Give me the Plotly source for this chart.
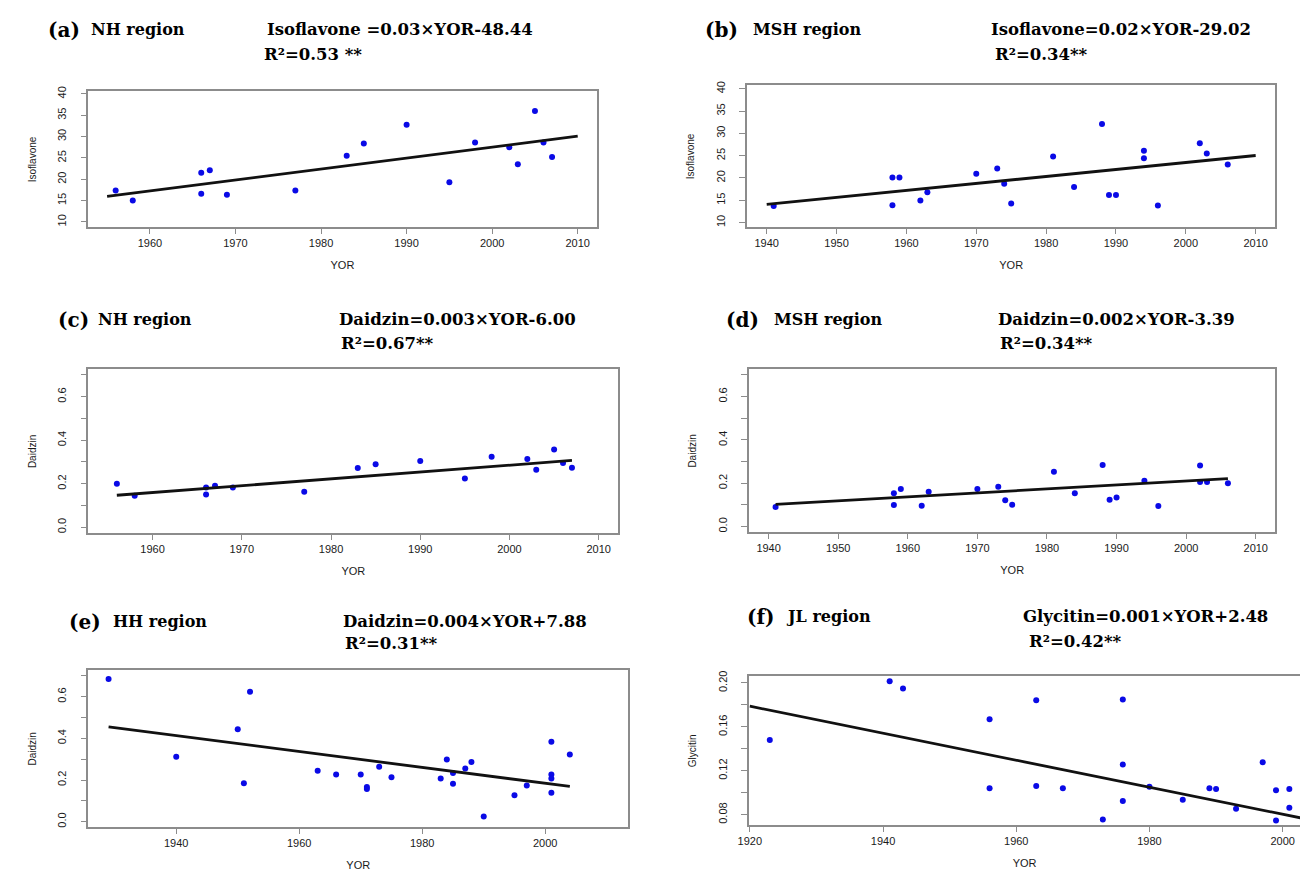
import plotly.graph_objects as go

W, H = 1300, 873

# ---------------- data ----------------
# (a) NH region, Isoflavone
a_year = [1956, 1958, 1966, 1966, 1967, 1969, 1977, 1983, 1985, 1990, 1995, 1998, 2002, 2003, 2005, 2006, 2007]
a_val = [17.35, 15.0, 21.5, 16.6, 22.1, 16.4, 17.35, 25.5, 28.4, 32.8, 19.3, 28.6, 27.5, 23.5, 36.0, 28.6, 25.2]
a_fit_year = [1955, 2010]
a_fit_val = [16.0, 30.1]

# (b) MSH region, Isoflavone
b_year = [1941, 1958, 1958, 1959, 1962, 1963, 1970, 1973, 1974, 1975, 1981, 1984, 1988, 1989, 1990,
          1994, 1994, 1996, 2002, 2003, 2006]
b_val = [13.7, 20.1, 13.9, 20.1, 14.95, 16.8, 20.95, 22.1, 18.7, 14.3, 24.8, 18.0, 32.1, 16.2, 16.2,
         26.1, 24.4, 13.8, 27.8, 25.5, 23.0]
b_fit_year = [1940, 2010]
b_fit_val = [14.07, 25.04]

# (c) NH region, Daidzin
c_year = [1956, 1958, 1966, 1966, 1967, 1969, 1977, 1983, 1985, 1990, 1995, 1998, 2002, 2003, 2005, 2006, 2007]
c_val = [0.200, 0.145, 0.183, 0.151, 0.191, 0.183, 0.163, 0.272, 0.290, 0.305, 0.224, 0.324, 0.314, 0.264,
         0.357, 0.295, 0.273]
c_fit_year = [1956, 2007]
c_fit_val = [0.147, 0.307]

# (d) MSH region, Daidzin
d_year = [1941, 1958, 1958, 1959, 1962, 1963, 1970, 1973, 1974, 1975, 1981, 1984, 1988, 1989, 1990,
          1994, 1996, 2002, 2002, 2003, 2006]
d_val = [0.090, 0.153, 0.099, 0.173, 0.096, 0.160, 0.173, 0.183, 0.121, 0.101, 0.253, 0.153, 0.284, 0.124,
         0.134, 0.211, 0.095, 0.282, 0.206, 0.206, 0.200]
d_fit_year = [1941, 2006]
d_fit_val = [0.102, 0.221]

# (e) HH region, Daidzin
e_year = [1929, 1940, 1950, 1951, 1952, 1963, 1966, 1970, 1971, 1971, 1973, 1975, 1983, 1984, 1985, 1985,
          1987, 1988, 1990, 1995, 1997, 2001, 2001, 2001, 2001, 2004]
e_val = [0.685, 0.312, 0.443, 0.185, 0.624, 0.245, 0.226, 0.226, 0.166, 0.157, 0.264, 0.213, 0.207, 0.299,
         0.234, 0.182, 0.255, 0.287, 0.025, 0.127, 0.174, 0.384, 0.226, 0.207, 0.139, 0.322]
e_fit_year = [1929, 2004]
e_fit_val = [0.455, 0.169]

# (f) JL region, Glycitin
f_year = [1923, 1941, 1943, 1956, 1956, 1963, 1963, 1967, 1973, 1976, 1976, 1976, 1980, 1985, 1989, 1990,
          1993, 1997, 1999, 1999, 2001, 2001]
f_val = [0.148, 0.2016, 0.1949, 0.167, 0.104, 0.1843, 0.1061, 0.104, 0.0757, 0.1849, 0.1256, 0.0925, 0.1055,
         0.0937, 0.104, 0.1034, 0.0855, 0.1277, 0.1022, 0.0748, 0.1034, 0.0864]
f_fit_year = [1920, 2010]
f_fit_val = [0.1788, 0.0681]

# ---------------- panel layout (pixel boxes) ----------------
iso_ticks = [10, 15, 20, 25, 30, 35, 40]
dz_major = [0.0, 0.2, 0.4, 0.6]
dz_minor = [0.1, 0.3, 0.5, 0.7]
panels = [
    dict(x=a_year, y=a_val, fx=a_fit_year, fy=a_fit_val, box=(77, 590, 86, 223),
         xr=[1952.8, 2012.2], yr=[8.7, 40.6], xt=[1960, 1970, 1980, 1990, 2000, 2010],
         yt=iso_ticks, ytl=[str(v) for v in iso_ticks], ym=[], ylab="Isoflavone", rb=True),
    dict(x=b_year, y=b_val, fx=b_fit_year, fy=b_fit_val, box=(742, 1275, 80, 223),
         xr=[1937.2, 2012.8], yr=[8.9, 40.75], xt=[1940, 1950, 1960, 1970, 1980, 1990, 2000, 2010],
         yt=iso_ticks, ytl=[str(v) for v in iso_ticks], ym=[], ylab="Isoflavone", rb=True),
    dict(x=c_year, y=c_val, fx=c_fit_year, fy=c_fit_val, box=(77, 612, 366, 531),
         xr=[1952.8, 2012.2], yr=[-0.028, 0.725], xt=[1960, 1970, 1980, 1990, 2000, 2010],
         yt=dz_major, ytl=["0.0", "0.2", "0.4", "0.6"], ym=dz_minor, ylab="Daidzin", rb=True),
    dict(x=d_year, y=d_val, fx=d_fit_year, fy=d_fit_val, box=(744, 1275, 366, 530),
         xr=[1937.2, 2012.8], yr=[-0.027, 0.725], xt=[1940, 1950, 1960, 1970, 1980, 1990, 2000, 2010],
         yt=dz_major, ytl=["0.0", "0.2", "0.4", "0.6"], ym=dz_minor, ylab="Daidzin", rb=True),
    dict(x=e_year, y=e_val, fx=e_fit_year, fy=e_fit_val, box=(77, 622, 669, 827),
         xr=[1925.7, 2013.5], yr=[-0.027, 0.726], xt=[1940, 1960, 1980, 2000],
         yt=dz_major, ytl=["0.0", "0.2", "0.4", "0.6"], ym=dz_minor, ylab="Daidzin", rb=True),
    dict(x=f_year, y=f_val, fx=f_fit_year, fy=f_fit_val, box=(744, 1300, 675, 825),
         xr=[1919.9, 2002.6], yr=[0.0703, 0.206], xt=[1920, 1940, 1960, 1980, 2000],
         yt=[0.08, 0.12, 0.16, 0.20], ytl=["0.08", "0.12", "0.16", "0.20"], ym=[0.10, 0.14, 0.18],
         ylab="Glycitin", rb=False),
]

fig = go.Figure()
layout = dict(width=W, height=H, margin=dict(l=0, r=0, t=0, b=0), plot_bgcolor="white",
              paper_bgcolor="white", showlegend=False)

AX = "#8c8c8c"
SANS = "Liberation Sans, Arial, sans-serif"
tickfont = dict(family=SANS, size=11, color="#1a1a1a")

for i, p in enumerate(panels, start=1):
    xa = "x" if i == 1 else f"x{i}"
    ya = "y" if i == 1 else f"y{i}"
    fig.add_trace(go.Scatter(x=p["x"], y=p["y"], mode="markers", xaxis=xa, yaxis=ya,
                             marker=dict(color="#0a0ae6", size=6, line=dict(width=0))))
    fig.add_trace(go.Scatter(x=p["fx"], y=p["fy"], mode="lines", xaxis=xa, yaxis=ya,
                             line=dict(color="#111111", width=2.8)))
    l, r, t, b = p["box"]
    layout["xaxis" if i == 1 else f"xaxis{i}"] = dict(
        domain=[l / W, r / W], anchor=ya, range=p["xr"], tickvals=p["xt"],
        showline=True, mirror=True, linecolor=AX, linewidth=1.5, ticks="outside", ticklen=5,
        tickcolor=AX, tickwidth=1.2, showgrid=False, zeroline=False, tickfont=tickfont,
        ticklabelstandoff=0,
        title=dict(text="YOR", font=dict(family=SANS, size=11, color="#1a1a1a"), standoff=13))
    yax = dict(
        domain=[1 - b / H, 1 - t / H], anchor=xa, range=p["yr"], tickvals=p["yt"], ticktext=p["ytl"],
        showline=True, mirror=p["rb"], linecolor=AX, linewidth=1.5, ticks="outside", ticklen=6,
        tickcolor=AX, tickwidth=1.2, showgrid=False, zeroline=False, tickfont=tickfont, tickangle=-90,
        ticklabelstandoff=10,
        title=dict(text=p["ylab"], font=dict(family=SANS, size=10, color="#1a1a1a"), standoff=18))
    if p["ym"]:
        yax["minor"] = dict(tickvals=p["ym"], ticks="outside", ticklen=6, tickcolor=AX, tickwidth=1.2,
                            showgrid=False)
    layout["yaxis" if i == 1 else f"yaxis{i}"] = yax

SERIF = "DejaVu Serif, Liberation Serif, serif"


def ann(text, x, y, size):
    return dict(text=text, x=x / W, y=1 - y / H, xref="paper", yref="paper", xanchor="left",
                yanchor="middle", showarrow=False,
                font=dict(family=SERIF, size=size, color="black", weight="bold"))


titles = [
    ("(a)", "NH region", "Isoflavone =0.03×YOR-48.44", "R²=0.53 **", (34, 78, 255, 252, 24, 49)),
    ("(b)", "MSH region", "Isoflavone=0.02×YOR-29.02", "R²=0.34**", (697, 746, 986, 990, 24, 49)),
    ("(c)", "NH region", "Daidzin=0.003×YOR-6.00", "R²=0.67**", (44, 85, 328, 330, 316, 340)),
    ("(d)", "MSH region", "Daidzin=0.002×YOR-3.39", "R²=0.34**", (719, 767, 993, 995, 316, 340)),
    ("(e)", "HH region", "Daidzin=0.004×YOR+7.88", "R²=0.31**", (56, 100, 332, 334, 620, 642)),
    ("(f)", "JL region", "Glycitin=0.001×YOR+2.48", "R²=0.42**", (740, 779, 1018, 1024, 615, 640)),
]
annotations = []
for lab, reg, eq, r2, (xl, xr_, xe, xr2, yt, yr2) in titles:
    annotations.append(ann(lab, xl, yt, 20))
    annotations.append(ann(reg, xr_, yt, 16))
    annotations.append(ann(eq, xe, yt, 16.5))
    annotations.append(ann(r2, xr2, yr2, 16.5))
layout["annotations"] = annotations

fig.update_layout(**layout)
fig.write_html("out.html", config={"displayModeBar": False},
               post_script="document.body.style.margin='0px';")
